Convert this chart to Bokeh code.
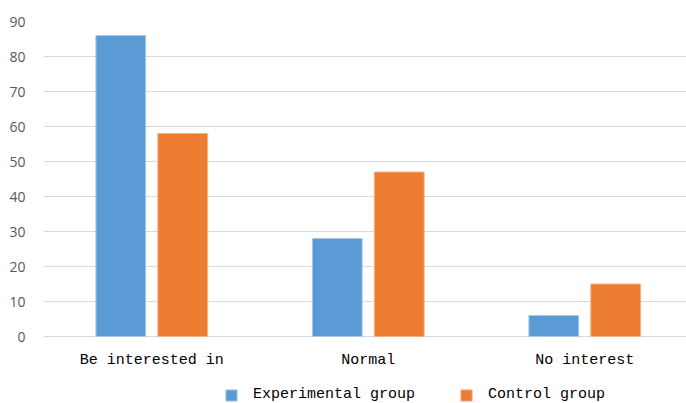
from bokeh.plotting import figure
from bokeh.models import Range1d, FixedTicker, Legend, LegendItem, ColumnDataSource
from bokeh.core.properties import value
from bokeh.embed import file_html
from bokeh.resources import INLINE

categories = ["Be interested in", "Normal", "No interest"]
experimental = [86, 28, 6]
control = [58, 47, 15]
y_ticks = [0, 10, 20, 30, 40, 50, 60, 70, 80, 90]

xs = list(range(len(categories)))
src = ColumnDataSource(dict(
    x=xs,
    xe=[x - 0.143 for x in xs],
    xc=[x + 0.143 for x in xs],
    exp=experimental,
    ctl=control,
    base=[0] * len(xs),
    cat=categories,
))

# frame spans the whole height below the top border; the part below 0 holds labels and legend
p = figure(width=686, height=403, output_backend="svg", toolbar_location=None,
           x_range=Range1d(-0.5, 2.47), y_range=Range1d(-19.14, 90),
           x_axis_location=None,
           min_border_left=43, min_border_right=0, min_border_top=21, min_border_bottom=0)
p.outline_line_color = None
p.background_fill_color = "white"
p.border_fill_color = "white"

r1 = p.vbar(x="xe", top="exp", width=0.23, source=src, fill_color="#5b9bd5", line_color="#a9c9ea", line_width=1)
r2 = p.vbar(x="xc", top="ctl", width=0.23, source=src, fill_color="#ed7d31", line_color="#f5b185", line_width=1)

p.text(x="x", y="base", text="cat", source=src, y_offset=15,
       text_font=value("Liberation Mono"), text_font_size="15px", text_color="black",
       text_align="center", text_baseline="top")

p.xgrid.visible = False
p.ygrid.ticker = FixedTicker(ticks=y_ticks)
p.ygrid.grid_line_color = "#d9d9d9"
p.ygrid.grid_line_width = 1

p.yaxis.ticker = FixedTicker(ticks=y_ticks)
p.yaxis.axis_line_color = None
p.yaxis.major_tick_line_color = None
p.yaxis.minor_tick_line_color = None
p.yaxis.major_label_text_font = "Open Sans"
p.yaxis.major_label_text_font_size = "14px"
p.yaxis.major_label_text_color = "#595959"
p.yaxis.major_label_standoff = 12

legend = Legend(items=[LegendItem(label="Experimental group", renderers=[r1]),
                       LegendItem(label="Control group", renderers=[r2])],
                orientation="horizontal", location=(181, 0),
                label_text_font="Liberation Mono", label_text_font_size="15px",
                label_text_color="black",
                label_height=14, label_text_line_height=1.0,
                glyph_width=14, glyph_height=14, label_standoff=15, spacing=44,
                padding=0, margin=0, border_line_alpha=0, background_fill_alpha=0)
p.add_layout(legend)

open("out.html", "w").write(file_html(p, INLINE))
